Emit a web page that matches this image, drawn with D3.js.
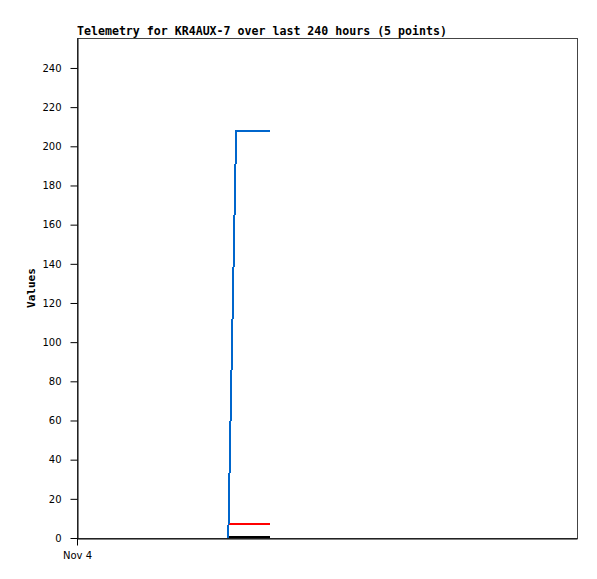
<!DOCTYPE html>
<html>
<head>
<meta charset="utf-8">
<script src="https://cdn.jsdelivr.net/npm/d3@7"></script>
<style>
  body { margin: 0; background: #fff; }
  text { font-family: "DejaVu Sans Mono", monospace; }
</style>
</head>
<body>
<div id="chart"></div>
<script>
// hours after Nov 4 00:00
const hours = [72.6, 76.4, 81.0, 86.5, 92.6];
const blueValues = [0, 208, 208, 208, 208];
const redValues = [7, 7, 7, 7, 7];
const blackValues = [0.4, 0.4, 0.4, 0.4, 0.4];
const yTicks = [0, 20, 40, 60, 80, 100, 120, 140, 160, 180, 200, 220, 240];
const xTickLabels = [{ h: 0, label: 'Nov 4' }];

const width = 597, height = 579;
const margin = { top: 38, right: 20, bottom: 41, left: 77 };

const svg = d3.select('#chart').append('svg')
  .attr('width', width)
  .attr('height', height);

const x = d3.scaleLinear().domain([0, 240]).range([margin.left, width - margin.right]);
const y = d3.scaleLinear().domain([0, 255.3]).range([height - margin.bottom, margin.top]);

// title
svg.append('text')
  .attr('x', margin.left)
  .attr('y', 35)
  .style('font-size', '11.6px')
  .style('font-weight', 'bold')
  .text('Telemetry for KR4AUX-7 over last 240 hours (5 points)');

// frame (top, right)
svg.append('rect')
  .attr('x', margin.left + 0.5)
  .attr('y', margin.top + 0.5)
  .attr('width', width - margin.left - margin.right)
  .attr('height', height - margin.top - margin.bottom)
  .attr('fill', 'none')
  .attr('stroke', '#444')
  .attr('stroke-width', 1);

const tickFont = '"DejaVu Sans", sans-serif';

// y axis
const yAxis = svg.append('g')
  .attr('transform', `translate(${margin.left + 0.5},0)`)
  .call(d3.axisLeft(y).tickValues(yTicks).tickSize(7).tickSizeOuter(0).tickPadding(9));
yAxis.select('.domain').attr('stroke', '#000');
yAxis.selectAll('text').style('font-size', '10px').style('font-family', tickFont);

// x axis
const xAxis = svg.append('g')
  .attr('transform', `translate(0,${height - margin.bottom + 0.5})`)
  .call(d3.axisBottom(x)
    .tickValues(xTickLabels.map(d => d.h))
    .tickFormat((d, i) => xTickLabels[i].label)
    .tickSize(7).tickSizeOuter(0).tickPadding(6));
xAxis.select('.domain').attr('stroke', '#000');
xAxis.selectAll('text').style('font-size', '10px').style('font-family', tickFont);

// y label
svg.append('text')
  .attr('transform', `translate(35,${(margin.top + height - margin.bottom) / 2}) rotate(-90)`)
  .attr('text-anchor', 'middle')
  .style('font-size', '11px')
  .style('font-weight', 'bold')
  .text('Values');

const line = vals => d3.line()
  .x((d, i) => x(hours[i]))
  .y(d => y(d))(vals);

const series = [
  { values: blackValues, color: '#000000' },
  { values: redValues, color: '#ff0000' },
  { values: blueValues, color: '#0066cc' }
];

svg.selectAll('.series')
  .data(series)
  .enter()
  .append('path')
  .attr('class', 'series')
  .attr('d', d => line(d.values))
  .attr('fill', 'none')
  .attr('stroke', d => d.color)
  .attr('stroke-width', 2)
  .style('shape-rendering', 'crispEdges');
</script>
</body>
</html>
